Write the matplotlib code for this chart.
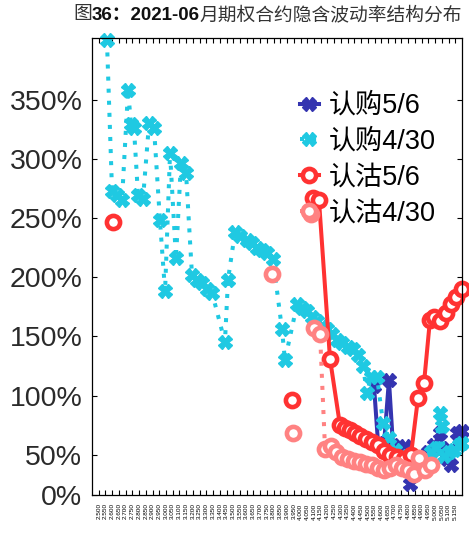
import numpy as np
import matplotlib
matplotlib.use("Agg")
import matplotlib.pyplot as plt

plt.rcParams['font.family'] = ['Liberation Sans', 'Noto Sans CJK SC', 'DejaVu Sans']

# strike / implied vol
call_0506_k = [4.546, 4.576, 4.620, 4.657, 4.687, 4.732, 4.776, 4.813, 4.858, 4.903,
               4.947, 4.992, 5.037, 5.051, 5.089, 5.118, 5.163, 5.200]
call_0506_iv = [1.08, 0.60, 0.58, 1.13, 0.58, 0.56, 0.57, 0.25, 0.39, 0.46,
                0.52, 0.58, 0.68, 0.56, 0.46, 0.41, 0.68, 0.70]

call_0430_k = [2.561, 2.599, 2.636, 2.673, 2.718, 2.740, 2.762, 2.792, 2.829, 2.874,
               2.911, 2.955, 2.993, 3.030, 3.074, 3.111, 3.149, 3.193, 3.230, 3.268,
               3.305, 3.342, 3.438, 3.461, 3.513, 3.550, 3.602, 3.639, 3.676, 3.713,
               3.751, 3.795, 3.862, 3.884, 3.974, 4.011, 4.048, 4.085, 4.122, 4.159,
               4.197, 4.234, 4.271, 4.308, 4.353, 4.390, 4.427, 4.464, 4.494, 4.524,
               4.568, 4.613, 4.657, 4.702, 4.747, 4.791, 4.836, 4.880, 4.925, 4.970,
               5.007, 5.037, 5.051, 5.066, 5.103, 5.141, 5.178, 5.200]
call_0430_iv = [4.00, 2.73, 2.69, 2.65, 3.58, 3.29, 3.26, 2.69, 2.66, 3.30,
                3.26, 2.48, 1.88, 3.05, 2.16, 2.96, 2.88, 2.02, 1.98, 1.95,
                1.90, 1.87, 1.45, 1.98, 2.38, 2.35, 2.31, 2.29, 2.25, 2.23,
                2.20, 2.15, 1.56, 1.30, 1.77, 1.74, 1.71, 1.66, 1.63, 1.59,
                1.56, 1.52, 1.47, 1.44, 1.41, 1.39, 1.34, 1.25, 1.02, 1.16,
                1.16, 0.77, 0.64, 0.54, 0.49, 0.46, 0.43, 0.46, 0.47, 0.52,
                0.56, 0.85, 0.74, 0.49, 0.52, 0.54, 0.58, 0.60]

# nan = no quote, breaks the line
put_0506_k = [2.606, 3.000, 3.936, 4.000, 4.093, 4.137, 4.219, 4.293, 4.330, 4.368,
              4.405, 4.442, 4.487, 4.531, 4.576, 4.620, 4.665, 4.717, 4.769, 4.821,
              4.873, 4.918, 4.962, 4.992, 5.037, 5.081, 5.118, 5.155, 5.200]
put_0506_iv = [2.47, np.nan, 0.96, np.nan, 2.67, 2.65, 1.31, 0.75, 0.73, 0.71,
               0.68, 0.66, 0.63, 0.61, 0.58, 0.53, 0.50, 0.48, 0.46, 0.50,
               0.98, 1.11, 1.64, 1.66, 1.63, 1.70, 1.77, 1.83, 1.90]

put_0430_k = [3.788, 3.900, 3.944, 4.000, 4.078, 4.090, 4.100, 4.145, 4.182, 4.226,
              4.263, 4.308, 4.353, 4.397, 4.442, 4.487, 4.531, 4.576, 4.620, 4.665,
              4.710, 4.754, 4.799, 4.843, 4.880, 4.925, 4.970]
put_0430_iv = [2.03, np.nan, 0.68, np.nan, 2.53, np.nan, 1.57, 1.52, 0.55, 0.57,
               0.52, 0.48, 0.46, 0.45, 0.44, 0.42, 0.41, 0.39, 0.37, 0.39,
               0.41, 0.39, 0.37, 0.34, 0.47, 0.37, 0.41]

labels = ['认购5/6', '认购4/30', '认沽5/6', '认沽4/30']
xticks = np.arange(2.50, 5.19, 0.05)
yticks = [0.16, 0.5, 1.0, 1.5, 2.0, 2.5, 3.0, 3.5]
ytick_labels = ['0%', '50%', '100%', '150%', '200%', '250%', '300%', '350%']

BLUE = '#3434B0'
CYAN = '#1FC9E2'
RED = '#FF3232'
PINK = '#FF8282'

fig = plt.figure(figsize=(4.69, 5.47), dpi=100)
ax = fig.add_axes([92/469, 52/547, 370/469, 457/547])

dot = (0, (1, 2))
ax.plot(call_0506_k, call_0506_iv, '-', color=BLUE, lw=2.9, marker='X', ms=10,
        mec=BLUE, mfc=BLUE, label=labels[0], clip_on=False)
ax.plot(call_0430_k, call_0430_iv, ls=dot, color=CYAN, lw=2.9, marker='X', ms=10,
        mec=CYAN, mfc=CYAN, label=labels[1], clip_on=False)
ax.plot(put_0506_k, put_0506_iv, '-', color=RED, lw=2.9, marker='o', ms=9.5,
        mfc='white', mec=RED, mew=3.3, label=labels[2], clip_on=False)
ax.plot(put_0430_k, put_0430_iv, ls=dot, color=PINK, lw=2.9, marker='o', ms=9.5,
        mfc='white', mec=PINK, mew=3.3, label=labels[3], clip_on=False)

ax.set_xlim(2.45, 5.20)
ax.set_ylim(0.16, 4.02)
ax.set_xticks(xticks)
ax.set_xticklabels(['%.3f' % t for t in xticks], rotation=90, fontsize=4.6)
ax.set_yticks(yticks)
ax.set_yticklabels(ytick_labels, fontsize=20.5, color='#2a2a2a')
ax.tick_params(direction='in', top=True, right=True, length=3.6, width=0.8)
ax.tick_params(axis='y', pad=7)
ax.tick_params(axis='x', pad=6)
for s in ax.spines.values():
    s.set_linewidth(0.9)

ax.legend(loc='upper left', bbox_to_anchor=(300/469, (547-93)/547),
          bbox_transform=fig.transFigure, frameon=False, fontsize=19.5,
          handlelength=0.7, handletextpad=0.35, labelspacing=0.36,
          borderpad=0, borderaxespad=0, numpoints=1)

# title with bold middle part
fig.canvas.draw()
r = fig.canvas.get_renderer()
x = 73 / 469
ty = 1 - 15 / 547
for txt, w in [('图', 'normal'), ('36：2021-06', 'bold'), ('月期权合约隐含波动率结构分布', 'normal')]:
    t = fig.text(x, ty, txt, fontsize=13.5, fontweight=w, va='center', ha='left',
                 color='#111111' if w == 'bold' else '#333333')
    bb = t.get_window_extent(r)
    x = bb.x1 / fig.bbox.width

fig.savefig('out.png', dpi=100)
